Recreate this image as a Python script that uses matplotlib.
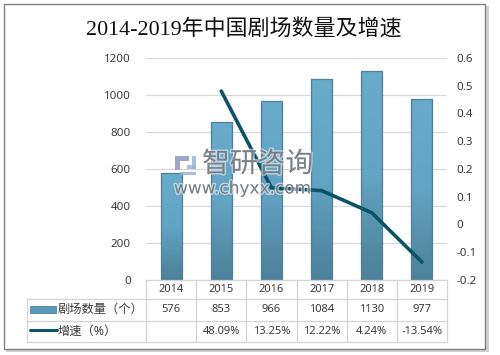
import numpy as np
import matplotlib
matplotlib.use("Agg")
import matplotlib.pyplot as plt
import matplotlib.patheffects as pe
from matplotlib.colors import LinearSegmentedColormap
from matplotlib.patches import Rectangle

years = ["2014", "2015", "2016", "2017", "2018", "2019"]
theatres = [576, 853, 966, 1084, 1130, 977]
growth = [None, 0.4809, 0.1325, 0.1222, 0.0424, -0.1354]
growth_labels = ["", "48.09%", "13.25%", "12.22%", "4.24%", "-13.54%"]
left_ticks = [0, 200, 400, 600, 800, 1000, 1200]
right_ticks = [-0.2, -0.1, 0, 0.1, 0.2, 0.3, 0.4, 0.5, 0.6]
title = "2014-2019年中国剧场数量及增速"
row_names = ["剧场数量（个）", "增速（%）"]

W, H = 500, 355
CJK = ["Noto Sans", "Noto Sans CJK SC", "DejaVu Sans"]
TEXT = "#3a3a3a"
GRID = "#d9d9d9"
LINE = "#0b5468"
plt.rcParams["font.family"] = CJK

fig = plt.figure(figsize=(W / 100, H / 100), dpi=100, facecolor="white")

bg = fig.add_axes([0, 0, 1, 1], zorder=0)
bg.set_xlim(0, W); bg.set_ylim(H, 0); bg.axis("off")
bg.add_patch(Rectangle((6, 6), 483, 346, fc="#d2d2d2", ec="none"))
bg.add_patch(Rectangle((3.5, 3.5), 481.5, 345, fc="white", ec="#808080", lw=1.0))

L, R, T, B = 146, 447, 58, 280
ax = fig.add_axes([L / W, 1 - B / H, (R - L) / W, (B - T) / H], zorder=2)
ax.patch.set_alpha(0)
x = np.arange(len(years))
ax.set_yticks(left_ticks)
ax.yaxis.grid(True, color=GRID, lw=0.9)
ax.set_axisbelow(True)
ax.set_xticks([])
for s in ax.spines.values():
    s.set_visible(False)
ax.tick_params(axis="y", length=0, pad=11, labelsize=8.3, labelcolor=TEXT)

cmap = LinearSegmentedColormap.from_list("bar", ["#68abcb", "#62a4c3", "#4c8199"])
grad = np.linspace(0, 1, 64).reshape(-1, 1)
bars = ax.bar(x, theatres, width=0.42, color="#5a9ab6", edgecolor="none", zorder=2)
for b in bars:
    im = ax.imshow(grad, cmap=cmap, aspect="auto", zorder=2.5,
                   extent=[b.get_x(), b.get_x() + b.get_width(), 0, b.get_height()])
    im.set_clip_path(b)
    ax.add_patch(Rectangle((b.get_x(), 0), b.get_width(), b.get_height(), fc="none",
                           ec="#4f7f99", lw=0.9, zorder=2.6))
ax.set_xlim(-0.5, 5.5)
ax.set_ylim(0, 1200)

ax2 = ax.twinx()
ax2.set_ylim(-0.2, 0.6)
ax2.set_yticks(right_ticks)
ax2.set_yticklabels(["-0.2", "-0.1", "0", "0.1", "0.2", "0.3", "0.4", "0.5", "0.6"])
for s in ax2.spines.values():
    s.set_visible(False)
ax2.tick_params(axis="y", length=0, pad=7, labelsize=8.3, labelcolor=TEXT)
ax2.patch.set_alpha(0)
ax2.plot(x[1:], growth[1:], color=LINE, lw=2.6, solid_capstyle="round", zorder=5)

fig.text(243.5 / W, 1 - 29 / H, title, ha="center", va="center", fontsize=15.8, color="#111111",
         family=["Liberation Serif", "Noto Sans CJK SC"], zorder=5)

tb = fig.add_axes([0, 0, 1, 1], zorder=3)
tb.set_xlim(0, W); tb.set_ylim(H, 0); tb.axis("off"); tb.patch.set_alpha(0)
cw = (R - L) / 6
rows = [280, 299, 321, 342]
TG = "#d4d4d4"
tb.plot([L, R], [rows[0]] * 2, color=TG, lw=0.9)
for yy in rows[1:]:
    tb.plot([27, R], [yy] * 2, color=TG, lw=0.9)
tb.plot([27, 27], [rows[1], rows[3]], color=TG, lw=0.9)
for i in range(7):
    tb.plot([L + i * cw] * 2, [rows[0], rows[3]], color=TG, lw=0.9)
for i in range(6):
    cx = L + (i + 0.5) * cw
    tb.text(cx, 289.5, years[i], ha="center", va="center", fontsize=8, color=TEXT)
    tb.text(cx, 309.5, str(theatres[i]), ha="center", va="center", fontsize=8, color=TEXT)
    tb.text(cx, 331.5, growth_labels[i], ha="center", va="center", fontsize=8, color=TEXT)
tb.text(58, 309.5, row_names[0], ha="left", va="center", fontsize=8.8, color=TEXT)
tb.text(58, 331, row_names[1], ha="left", va="center", fontsize=8.8, color=TEXT)
tb.add_patch(Rectangle((30, 306), 26, 6.5, fc="#5a9ab6", ec="#4f7f99", lw=0.6))
tb.plot([30, 57], [330, 330], color=LINE, lw=2.2, solid_capstyle="round")

wm = fig.add_axes([0, 0, 1, 1], zorder=6)
wm.set_xlim(0, W); wm.set_ylim(H, 0); wm.axis("off"); wm.patch.set_alpha(0)
halo = [pe.withStroke(linewidth=2.0, foreground="white", alpha=0.55)]
wm.text(202, 165, "智研咨询", ha="left", va="center", fontsize=20, color="#70767f",
        alpha=0.9, path_effects=halo)
wm.text(174, 188.5, "www.chyxx.com", ha="left", va="center", fontsize=12.2, color="#6a747e",
        alpha=0.9, family=["DejaVu Sans"], path_effects=halo)
for (rx, ry, rw, rh, rc) in [(175, 156, 14, 5, "#8d97c8"), (175, 161, 5, 9, "#8d97c8"),
                             (187, 165, 9, 4, "#9db4dc"), (192, 156, 4, 13, "#9db4dc"),
                             (180, 172, 16, 3, "#9db4dc")]:
    wm.add_patch(Rectangle((rx, ry), rw, rh, fc=rc, alpha=0.85, ec="none"))

fig.savefig("out.png", dpi=100, facecolor="white")
